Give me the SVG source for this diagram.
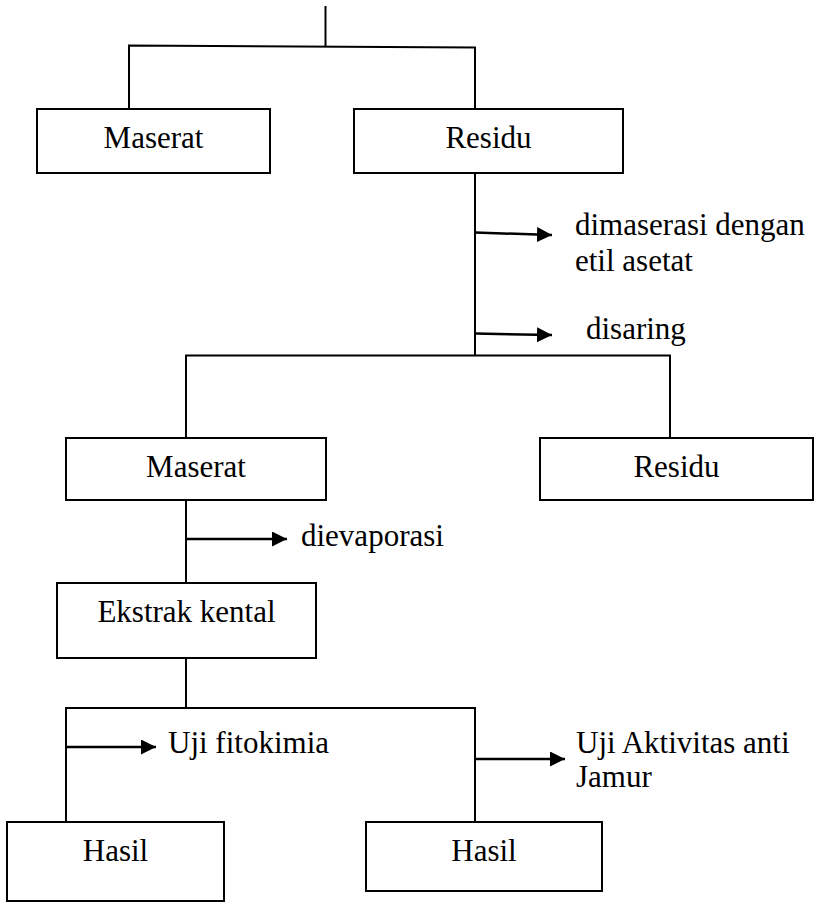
<svg xmlns="http://www.w3.org/2000/svg" width="815" height="902" viewBox="0 0 815 902">
<style>
.box{fill:#fff;stroke:#000;stroke-width:2}
.ln{fill:none;stroke:#000;stroke-width:2}
.arr{fill:none;stroke:#000;stroke-width:2.5;marker-end:url(#ah)}
text{font-family:"Liberation Serif","DejaVu Serif",serif;font-size:31px;fill:#000}
.c{text-anchor:middle}
</style>
<defs>
<marker id="ah" markerUnits="userSpaceOnUse" markerWidth="16" markerHeight="16" refX="15" refY="7.5" orient="auto">
<path d="M0,0 L15,7.5 L0,15 Z" fill="#000"/>
</marker>
</defs>
<rect width="815" height="902" fill="#fff"/>
<g id="connectors">
<line class="ln" x1="325.5" y1="6" x2="325.5" y2="47"/>
<polyline class="ln" points="129,109 129,45.5 475,47.5 475,109"/>
<line class="ln" x1="475" y1="173" x2="475" y2="356"/>
<line class="arr" x1="475" y1="232.5" x2="552" y2="235"/>
<line class="arr" x1="475" y1="333.5" x2="552" y2="335"/>
<polyline class="ln" points="186,438 186,355.5 670,355.5 670,438"/>
<line class="ln" x1="186" y1="500" x2="186" y2="583"/>
<line class="arr" x1="186" y1="539" x2="287" y2="539"/>
<line class="ln" x1="186" y1="658" x2="186" y2="708"/>
<polyline class="ln" points="66,822 66,708 475,708 475,822"/>
<line class="arr" x1="66" y1="747" x2="156" y2="747"/>
<line class="arr" x1="475" y1="759" x2="565" y2="759"/>
</g>
<g id="maserat1"><rect class="box" x="37" y="109" width="233" height="64"/><text class="c" x="153.5" y="148">Maserat</text></g>
<g id="residu1"><rect class="box" x="354" y="109" width="269" height="64"/><text class="c" x="488.5" y="148">Residu</text></g>
<g id="lbl-maserasi"><text x="575" y="235">dimaserasi dengan</text><text x="575" y="271">etil asetat</text></g>
<g id="lbl-disaring"><text x="586" y="339">disaring</text></g>
<g id="maserat2"><rect class="box" x="66" y="438" width="260" height="62"/><text class="c" x="196" y="477">Maserat</text></g>
<g id="residu2"><rect class="box" x="540" y="438" width="273" height="62"/><text class="c" x="676.5" y="477">Residu</text></g>
<g id="lbl-evaporasi"><text x="301" y="546">dievaporasi</text></g>
<g id="ekstrak"><rect class="box" x="57" y="583" width="259" height="75"/><text class="c" x="186.5" y="622">Ekstrak kental</text></g>
<g id="lbl-fitokimia"><text x="168" y="753">Uji fitokimia</text></g>
<g id="lbl-jamur"><text x="576" y="753">Uji Aktivitas anti</text><text x="576" y="787">Jamur</text></g>
<g id="hasil1"><rect class="box" x="7" y="822" width="217" height="79"/><text class="c" x="115.5" y="861">Hasil</text></g>
<g id="hasil2"><rect class="box" x="366" y="822" width="236" height="69"/><text class="c" x="484" y="861">Hasil</text></g>
</svg>
